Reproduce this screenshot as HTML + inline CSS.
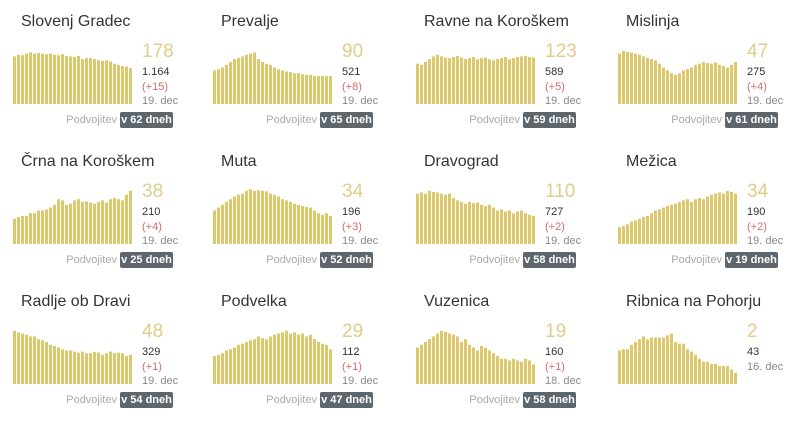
<!DOCTYPE html>
<html><head><meta charset="utf-8"><style>
body{margin:0;background:#fff;width:800px;height:425px;overflow:hidden;font-family:"Liberation Sans",sans-serif}
.p{position:absolute;width:190px;height:135px}
.t{position:absolute;left:9px;top:13px;font-size:16px;color:#333;white-space:nowrap}
svg{position:absolute;left:0;top:48px}
.big{position:absolute;left:130px;top:41px;font-size:19px;color:#e0cd8a}
.c{position:absolute;left:130px;top:66px;font-size:11px;color:#333}
.d{position:absolute;left:130px;top:81px;font-size:11px;color:#d96b6b}
.dt{position:absolute;left:130px;top:95px;font-size:11px;color:#888}
.pv{position:absolute;right:85px;top:114px;font-size:11px;color:#aaa}
.b{position:absolute;left:108px;top:112px;width:53px;height:16px;background:#5d666d;color:#fff;font-size:11px;font-weight:bold;text-align:center;line-height:16px;border-radius:2px}
</style></head><body>
<div class="p" style="left:12px;top:0"><div class="t">Slovenj Gradec</div><svg width="124" height="56"></svg><div class="big">178</div><div class="c">1.164</div><div class="d">(+15)</div><div class="dt">19. dec</div><div class="pv">Podvojitev</div><div class="b">v 62 dneh</div></div>
<div class="p" style="left:212px;top:0"><div class="t">Prevalje</div><svg width="124" height="56"></svg><div class="big">90</div><div class="c">521</div><div class="d">(+8)</div><div class="dt">19. dec</div><div class="pv">Podvojitev</div><div class="b">v 65 dneh</div></div>
<div class="p" style="left:415px;top:0"><div class="t">Ravne na Koroškem</div><svg width="124" height="56"></svg><div class="big">123</div><div class="c">589</div><div class="d">(+5)</div><div class="dt">19. dec</div><div class="pv">Podvojitev</div><div class="b">v 59 dneh</div></div>
<div class="p" style="left:617px;top:0"><div class="t">Mislinja</div><svg width="124" height="56"></svg><div class="big">47</div><div class="c">275</div><div class="d">(+4)</div><div class="dt">19. dec</div><div class="pv">Podvojitev</div><div class="b">v 61 dneh</div></div>

<div class="p" style="left:12px;top:140px"><div class="t">Črna na Koroškem</div><svg width="124" height="56"></svg><div class="big">38</div><div class="c">210</div><div class="d">(+4)</div><div class="dt">19. dec</div><div class="pv">Podvojitev</div><div class="b">v 25 dneh</div></div>
<div class="p" style="left:212px;top:140px"><div class="t">Muta</div><svg width="124" height="56"></svg><div class="big">34</div><div class="c">196</div><div class="d">(+3)</div><div class="dt">19. dec</div><div class="pv">Podvojitev</div><div class="b">v 52 dneh</div></div>
<div class="p" style="left:415px;top:140px"><div class="t">Dravograd</div><svg width="124" height="56"></svg><div class="big">110</div><div class="c">727</div><div class="d">(+2)</div><div class="dt">19. dec</div><div class="pv">Podvojitev</div><div class="b">v 58 dneh</div></div>
<div class="p" style="left:617px;top:140px"><div class="t">Mežica</div><svg width="124" height="56"></svg><div class="big">34</div><div class="c">190</div><div class="d">(+2)</div><div class="dt">19. dec</div><div class="pv">Podvojitev</div><div class="b">v 19 dneh</div></div>

<div class="p" style="left:12px;top:280px"><div class="t">Radlje ob Dravi</div><svg width="124" height="56"></svg><div class="big">48</div><div class="c">329</div><div class="d">(+1)</div><div class="dt">19. dec</div><div class="pv">Podvojitev</div><div class="b">v 54 dneh</div></div>
<div class="p" style="left:212px;top:280px"><div class="t">Podvelka</div><svg width="124" height="56"></svg><div class="big">29</div><div class="c">112</div><div class="d">(+1)</div><div class="dt">19. dec</div><div class="pv">Podvojitev</div><div class="b">v 47 dneh</div></div>
<div class="p" style="left:415px;top:280px"><div class="t">Vuzenica</div><svg width="124" height="56"></svg><div class="big">19</div><div class="c">160</div><div class="d">(+1)</div><div class="dt">18. dec</div><div class="pv">Podvojitev</div><div class="b">v 58 dneh</div></div>
<div class="p" style="left:617px;top:280px"><div class="t">Ribnica na Pohorju</div><svg width="124" height="56"></svg><div class="big">2</div><div class="c" style="top:66px">43</div><div class="dt" style="top:81px">16. dec</div></div>
<script>
var D=[
[.85,.88,.87,.9,.92,.9,.91,.9,.89,.9,.88,.87,.89,.86,.85,.84,.86,.8,.82,.82,.8,.78,.77,.78,.76,.72,.7,.68,.67,.64],
[.6,.62,.65,.7,.75,.8,.82,.85,.88,.9,.92,.8,.75,.72,.7,.65,.62,.6,.58,.57,.55,.55,.53,.52,.52,.5,.5,.5,.5,.5],
[.72,.7,.75,.8,.85,.88,.85,.83,.82,.84,.86,.83,.8,.82,.84,.8,.82,.83,.8,.78,.8,.82,.84,.8,.82,.84,.85,.86,.84,.83],
[.9,.95,.93,.92,.9,.88,.85,.82,.8,.78,.72,.65,.6,.55,.52,.55,.6,.62,.65,.7,.72,.75,.73,.72,.74,.7,.68,.65,.7,.75],
[.45,.48,.5,.5,.55,.55,.6,.6,.62,.65,.7,.8,.78,.7,.72,.78,.8,.75,.76,.74,.72,.75,.78,.74,.8,.82,.8,.78,.88,.95],
[.6,.65,.7,.75,.8,.85,.88,.9,.95,.98,.95,.96,.95,.94,.9,.88,.85,.8,.78,.75,.72,.7,.68,.66,.65,.6,.55,.52,.55,.5],
[.9,.92,.9,.95,.93,.92,.9,.88,.9,.82,.78,.75,.72,.75,.73,.74,.7,.68,.7,.65,.6,.62,.58,.6,.55,.58,.6,.55,.52,.5],
[.3,.32,.35,.4,.42,.45,.48,.5,.55,.6,.62,.65,.68,.7,.72,.75,.78,.8,.75,.8,.82,.8,.85,.88,.9,.92,.9,.95,.93,.9],
[.95,.92,.9,.88,.85,.85,.8,.78,.75,.7,.68,.65,.62,.6,.6,.58,.56,.58,.55,.55,.57,.56,.52,.55,.58,.55,.56,.55,.5,.52],
[.5,.52,.55,.6,.62,.65,.7,.72,.75,.78,.8,.85,.82,.8,.85,.88,.9,.92,.95,.9,.92,.88,.9,.85,.88,.8,.75,.72,.7,.62],
[.65,.7,.75,.8,.85,.9,.95,.93,.9,.88,.85,.75,.8,.7,.65,.6,.68,.65,.6,.55,.5,.45,.45,.42,.45,.42,.4,.45,.42,.35],
[.6,.62,.62,.7,.75,.8,.85,.8,.83,.83,.83,.83,.87,.9,.75,.72,.72,.62,.58,.52,.45,.4,.4,.36,.36,.32,.32,.32,.26,.2]];
var S=document.querySelectorAll('svg');
S.forEach(function(s,i){var h='';D[i].forEach(function(v,j){var bh=v*56;h+='<rect x="'+(j*4+1)+'" y="'+(56-bh)+'" width="3" height="'+bh+'" fill="#dcc96e"/>';});s.innerHTML=h;});
</script>
</body></html>
